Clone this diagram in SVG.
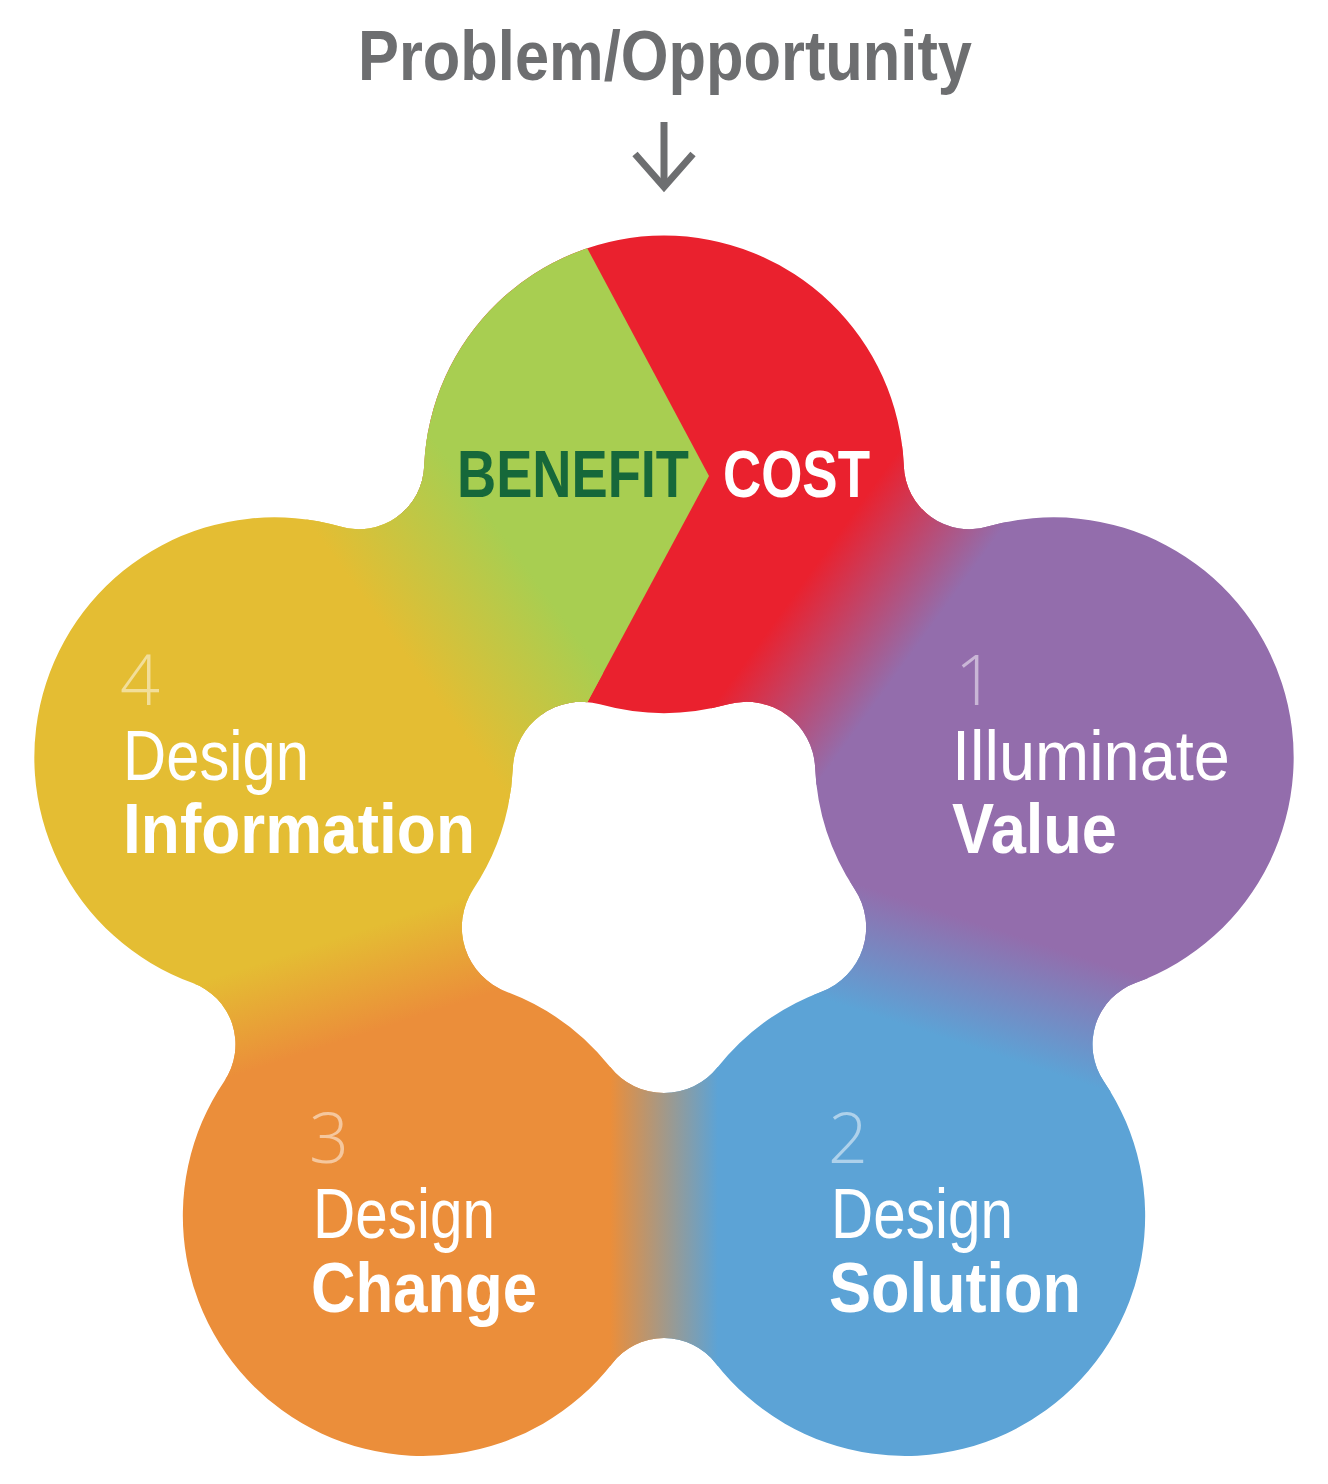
<svg xmlns="http://www.w3.org/2000/svg" width="1328" height="1484" viewBox="0 0 1328 1484">
  <style>
    .t { font-family: "Liberation Sans", Arial, sans-serif; font-size: 70px; fill: #ffffff; }
    .b { font-weight: bold; }
    .num { font-family: "Open Sans", "Liberation Sans", sans-serif; font-weight: 300; font-size: 70px; fill: #ffffff; fill-opacity: 0.5; }
    .title { font-family: "Liberation Sans", Arial, sans-serif; font-weight: bold; font-size: 70px; fill: #6d6e70; }
    .conn { fill: none; stroke: #6d6e70; stroke-width: 7; }
  </style>
  <defs>
    <clipPath id="flowerClip">
      <path clip-rule="evenodd" d="M424.2,465.8 A240,240 0 0 1 903.8,465.8 A65.5,65.5 0 0 0 987.6,526.6 A240,240 0 0 1 1135.9,982.8 A65.5,65.5 0 0 0 1103.9,1081.4 A240,240 0 0 1 715.8,1363.4 A65.5,65.5 0 0 0 612.2,1363.4 A240,240 0 0 1 224.1,1081.4 A65.5,65.5 0 0 0 192.1,982.8 A240,240 0 0 1 340.4,526.6 A65.5,65.5 0 0 0 424.2,465.8 Z M599.9,704.3 A240,240 0 0 0 728.1,704.3 A68.8,68.8 0 0 1 815.1,767.5 A240,240 0 0 0 854.7,889.3 A68.8,68.8 0 0 1 821.5,991.7 A240,240 0 0 0 717.8,1067.1 A68.8,68.8 0 0 1 610.2,1067.1 A240,240 0 0 0 506.5,991.7 A68.8,68.8 0 0 1 473.3,889.3 A240,240 0 0 0 512.9,767.5 A68.8,68.8 0 0 1 599.9,704.3 Z"/>
    </clipPath>
    <clipPath id="leftOfChevron">
      <polygon points="709,476 508,100 -100,100 -100,1100 373.6,1100"/>
    </clipPath>
    <linearGradient id="gN54" x1="0" y1="0" x2="1" y2="0">
      <stop offset="0" stop-color="#936dac"/>
      <stop offset="1" stop-color="#ea212e"/>
    </linearGradient>
    <linearGradient id="g18" x1="0" y1="0" x2="1" y2="0">
      <stop offset="0" stop-color="#5ca3d6"/>
      <stop offset="1" stop-color="#936dac"/>
    </linearGradient>
    <linearGradient id="g90" x1="0" y1="0" x2="1" y2="0">
      <stop offset="0" stop-color="#eb8e3a"/>
      <stop offset="1" stop-color="#5ca3d6"/>
    </linearGradient>
    <linearGradient id="g162" x1="0" y1="0" x2="1" y2="0">
      <stop offset="0" stop-color="#e4bd33"/>
      <stop offset="1" stop-color="#eb8e3a"/>
    </linearGradient>
    <linearGradient id="g234" x1="0" y1="0" x2="1" y2="0">
      <stop offset="0" stop-color="#a8ce51"/>
      <stop offset="1" stop-color="#e4bd33"/>
    </linearGradient>
  </defs>

  <rect x="0" y="0" width="1328" height="1484" fill="#ffffff"/>

  <g id="title">
    <text class="title" x="665" y="80" text-anchor="middle" textLength="614" lengthAdjust="spacingAndGlyphs">Problem/Opportunity</text>
  </g>

  <g id="connectors">
    <line class="conn" x1="664" y1="122" x2="664" y2="186"/>
    <polyline class="conn" points="635,154 664,187 693,154"/>
  </g>

  <g id="flower" clip-path="url(#flowerClip)">
    <polygon fill="#ea212e" points="664,884 76.2,75 664,-416 1251.8,75"/>
    <polygon fill="#936dac" points="664,884 1251.8,75 1900.4,482.3 1615.1,1193"/>
    <polygon fill="#5ca3d6" points="664,884 1615.1,1193 1428.1,1935.7 664,1884"/>
    <polygon fill="#eb8e3a" points="664,884 664,1884 -100.1,1935.7 -287.1,1193"/>
    <polygon fill="#e4bd33" points="664,884 -287.1,1193 -572.4,482.3 76.2,75"/>
    <polygon fill="#a8ce51" points="709,476 508,100 76.2,75 563.8,746.1"/>
    <rect transform="translate(664 884) rotate(-144)" x="-65" y="0" width="130" height="700" fill="url(#gN54)"/>
    <rect transform="translate(664 884) rotate(-72)" x="-60" y="0" width="120" height="700" fill="url(#g18)"/>
    <rect transform="translate(664 884) rotate(0)" x="-54" y="0" width="108" height="700" fill="url(#g90)"/>
    <rect transform="translate(664 884) rotate(72)" x="-50" y="0" width="100" height="700" fill="url(#g162)"/>
    <g clip-path="url(#leftOfChevron)">
      <rect transform="translate(664 884) rotate(144)" x="-75" y="0" width="150" height="700" fill="url(#g234)"/>
    </g>
  </g>

  <g id="node-benefit-cost">
    <text class="t b" x="457" y="497" style="fill:#16683a;font-size:67px" textLength="232" lengthAdjust="spacingAndGlyphs">BENEFIT</text>
    <text class="t b" x="723" y="497" style="font-size:67px" textLength="147" lengthAdjust="spacingAndGlyphs">COST</text>
  </g>

  <g id="node-1">
    <text class="num" x="955" y="705">1</text>
    <text class="t" x="952" y="780" textLength="278" lengthAdjust="spacingAndGlyphs">Illuminate</text>
    <text class="t b" x="952" y="853" textLength="165" lengthAdjust="spacingAndGlyphs">Value</text>
  </g>

  <g id="node-2">
    <text class="num" x="828" y="1163">2</text>
    <text class="t" x="831" y="1238" textLength="182" lengthAdjust="spacingAndGlyphs">Design</text>
    <text class="t b" x="829" y="1312" textLength="252" lengthAdjust="spacingAndGlyphs">Solution</text>
  </g>

  <g id="node-3">
    <text class="num" x="309" y="1163">3</text>
    <text class="t" x="313" y="1238" textLength="182" lengthAdjust="spacingAndGlyphs">Design</text>
    <text class="t b" x="311" y="1312" textLength="226" lengthAdjust="spacingAndGlyphs">Change</text>
  </g>

  <g id="node-4">
    <text class="num" x="120" y="705">4</text>
    <text class="t" x="123" y="780" textLength="186" lengthAdjust="spacingAndGlyphs">Design</text>
    <text class="t b" x="123" y="853" textLength="352" lengthAdjust="spacingAndGlyphs">Information</text>
  </g>
</svg>
